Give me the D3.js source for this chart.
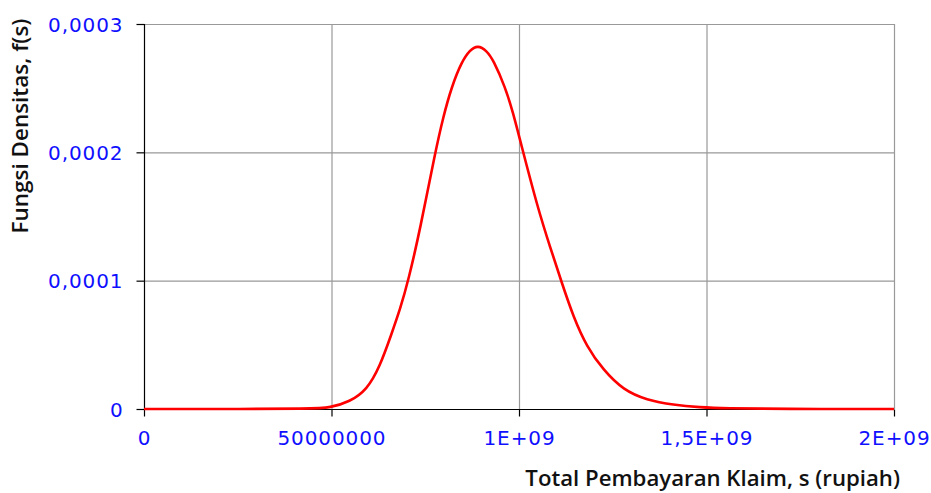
<!DOCTYPE html>
<html><head><meta charset="utf-8">
<script src="https://cdn.jsdelivr.net/npm/d3@7"></script>
<style>
html,body{margin:0;padding:0;background:#fff;}
svg{display:block;}
</style></head>
<body>
<svg id="chart" width="931" height="493"></svg>
<script>
// Data
const sValues = [0, 2.0e8, 4.5e8, 4.96e8, 5.49e8, 5.94e8, 6.29e8, 6.605e8, 6.827e8, 7.048e8, 7.36e8, 7.76e8, 7.981e8, 8.205e8, 8.472e8, 8.69e8, 8.899e8, 9.139e8, 9.315e8, 9.627e8, 9.848e8, 1.0027e9, 1.0515e9, 1.0827e9, 1.1139e9, 1.1448e9, 1.1805e9, 1.2248e9, 1.2781e9, 1.3405e9, 1.4115e9, 1.4827e9, 1.55e9, 1.7e9, 2.0e9];
const fValues = [0, 0, 0.0000002, 0.000001, 0.0000057, 0.0000148, 0.000033, 0.0000589, 0.0000775, 0.0001, 0.0001395, 0.0001993, 0.0002278, 0.0002512, 0.0002706, 0.0002797, 0.0002835, 0.0002792, 0.0002719, 0.0002512, 0.0002304, 0.0002096, 0.000155, 0.0001265, 0.0000985, 0.000072, 0.0000486, 0.0000304, 0.0000148, 0.000007, 0.0000031, 0.0000013, 0.0000005, 0, 0];
const xTickValues = [0, 5e8, 1e9, 1.5e9, 2e9];
const xTickLabels = ["0", "50000000", "1E+09", "1,5E+09", "2E+09"];
const yTickValues = [0, 0.0001, 0.0002, 0.0003];
const yTickLabels = ["0", "0,0001", "0,0002", "0,0003"];
const xTitle = "Total Pembayaran Klaim, s (rupiah)";
const yTitle = "Fungsi Densitas, f(s)";

const svg = d3.select("#chart");
const W = 931, H = 493;
const m = {left: 144, top: 24, right: 37, bottom: 84};
const x = d3.scaleLinear().domain([0, 2e9]).range([m.left, W - m.right]);
const y = d3.scaleLinear().domain([0, 0.0003]).range([H - m.bottom, m.top]);

const tickFont = "'DejaVu Sans', Verdana, sans-serif";
const blue = "#1010ff";

// gridlines
const g = svg.append("g");
g.selectAll("line.hg").data(yTickValues.filter(v => v > 0)).enter().append("line")
  .attr("x1", x(0)).attr("x2", x(2e9)).attr("y1", d => y(d) + 0.5).attr("y2", d => y(d) + 0.5)
  .attr("stroke", "#999").attr("stroke-width", 1.2);
g.selectAll("line.vg").data(xTickValues.filter(v => v > 0)).enter().append("line")
  .attr("y1", y(0)).attr("y2", y(0.0003)).attr("x1", d => x(d) + 0.5).attr("x2", d => x(d) + 0.5)
  .attr("stroke", "#999").attr("stroke-width", 1.2);

// axes
const xAxis = d3.axisBottom(x).tickValues(xTickValues).tickSize(7).tickPadding(14)
  .tickFormat((d, i) => xTickLabels[i]);
const yAxis = d3.axisLeft(y).tickValues(yTickValues).tickSize(8).tickPadding(13)
  .tickFormat((d, i) => yTickLabels[i]);

const gx = svg.append("g").attr("transform", `translate(0,${y(0) + 0.5})`).call(xAxis);
const gy = svg.append("g").attr("transform", `translate(${x(0) + 0.5},0)`).call(yAxis);
[gx, gy].forEach(a => {
  a.select(".domain").attr("stroke", "#000").attr("stroke-width", 1.2);
  a.selectAll(".tick line").attr("stroke", "#000").attr("stroke-width", 1.2);
  a.selectAll(".tick text").attr("fill", blue).style("font-family", tickFont)
    .style("font-size", "20px").style("letter-spacing", "0.9px");
});
gx.select(".domain").attr("d", `M${x(0)},0H${x(2e9)}`);
gy.select(".domain").attr("d", `M0,${y(0)}V${y(0.0003)}`);
gy.selectAll(".tick text").attr("dy", "0.36em");

// density curve
const pts = sValues.map((s, i) => [s, fValues[i]]);
svg.append("path").datum(pts)
  .attr("fill", "none").attr("stroke", "#ff0000").attr("stroke-width", 2.6)
  .attr("stroke-linejoin", "round")
  .attr("d", d3.line().x(d => x(d[0])).y(d => y(d[1])).curve(d3.curveBasis));

// titles
const titleFont = "'Open Sans', 'Noto Sans', sans-serif";
function fit(sel, target) {
  const w = sel.node().getComputedTextLength();
  const fs = parseFloat(sel.style("font-size"));
  sel.style("font-size", (fs * target / w) + "px");
}
const xt = svg.append("text").text(xTitle)
  .attr("x", 900).attr("y", 486).attr("text-anchor", "end")
  .style("font-family", titleFont).style("font-weight", 600).style("font-size", "19px").attr("fill", "#111");
fit(xt, 375);
const yt = svg.append("text").text(yTitle)
  .attr("transform", "translate(28,126) rotate(-90)").attr("text-anchor", "middle")
  .style("font-family", titleFont).style("font-weight", 600).style("font-size", "19px").attr("fill", "#111");
fit(yt, 215);
</script>
</body></html>
